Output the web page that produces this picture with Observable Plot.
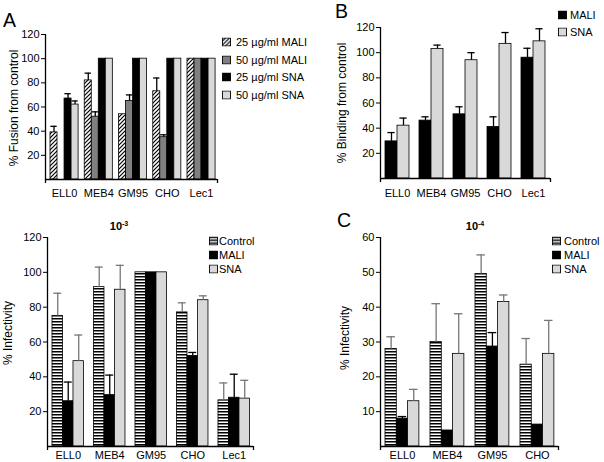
<!DOCTYPE html>
<html><head><meta charset="utf-8">
<script src="https://cdn.jsdelivr.net/npm/d3@7"></script>
<script src="https://cdn.jsdelivr.net/npm/@observablehq/plot@0.6"></script>
<style>
html,body{margin:0;padding:0;background:#fff;}
#fig{position:relative;width:604px;height:462px;overflow:hidden;font-family:"Liberation Sans",Arial,Helvetica,sans-serif;color:#000;background:#fff;}
.plot{position:absolute;}
.ylab{position:absolute;white-space:nowrap;font-size:12px;line-height:1;transform:translate(-50%,-50%) rotate(-90deg);}
.letter{position:absolute;font-size:19.5px;line-height:1;}
.title{position:absolute;font-size:11px;font-weight:bold;line-height:1;transform:translateX(-50%);white-space:nowrap;}
.title sup{font-size:7px;vertical-align:4px;line-height:0;}
.leg{position:absolute;font-size:11px;line-height:1;display:flex;align-items:center;white-space:nowrap;transform:translateY(-50%);}
.leg svg{display:block;flex:none;}
</style></head>
<body>
<svg width="0" height="0" style="position:absolute">
<defs>
<pattern id="diag" patternUnits="userSpaceOnUse" width="4" height="4">
 <rect width="4" height="4" fill="white"/>
 <path d="M-1,1 l2,-2 M0,4 l4,-4 M3,5 l2,-2" stroke="black" stroke-width="1.2"/>
</pattern>
<pattern id="hstripe" patternUnits="userSpaceOnUse" width="4" height="3">
 <rect width="4" height="3" fill="white"/>
 <rect width="4" height="1.5" fill="black"/>
</pattern>
</defs></svg>
<div id="fig"></div>
<script>
// ---------- Panel A: % fusion from control ----------
const groupsA = ["ELL0", "MEB4", "GM95", "CHO", "Lec1"];
const seriesA = ["25 µg/ml MALI", "50 µg/ml MALI", "25 µg/ml SNA", "50 µg/ml SNA"];
const mali25A = [39, 82, 54, 73, 100];
const mali25AErr = [5, 6, 0, 11, 0];
const mali50A = [0, 52, 65, 35, 100];
const mali50AErr = [0, 4, 5, 2, 0];
const sna25A = [67, 100, 100, 100, 100];
const sna25AErr = [4, 0, 0, 0, 0];
const sna50A = [62, 100, 100, 100, 100];
const sna50AErr = [3, 0, 0, 0, 0];
const yTicksA = [20, 40, 60, 80, 100, 120];

// ---------- Panel B: % binding from control ----------
const groupsB = ["ELL0", "MEB4", "GM95", "CHO", "Lec1"];
const seriesB = ["MALI", "SNA"];
const maliB = [29.5, 46, 51, 41, 96];
const maliBErr = [7, 3, 6, 8, 7.5];
const snaB = [42, 103, 94, 107, 109];
const snaBErr = [6, 3, 6, 9, 10];
const yTicksB = [20, 40, 60, 80, 100, 120];

// ---------- Panel 10^-3: % infectivity ----------
const groupsD = ["ELL0", "MEB4", "GM95", "CHO", "Lec1"];
const seriesD = ["Control", "MALI", "SNA"];
const controlD = [75, 91.5, 100, 77, 26.5];
const controlDErr = [13, 11.5, 0, 5.5, 10];
const maliD = [26, 29.5, 100, 52, 28];
const maliDErr = [11, 11.5, 0, 2, 13.5];
const snaD = [49, 90, 100, 84, 27.5];
const snaDErr = [15, 14, 0, 2.5, 10.5];
const yTicksD = [20, 40, 60, 80, 100, 120];

// ---------- Panel C (10^-4): % infectivity ----------
const groupsC = ["ELL0", "MEB4", "GM95", "CHO"];
const seriesC = ["Control", "MALI", "SNA"];
const controlC = [28, 30, 49.5, 23.5];
const controlCErr = [3.5, 11, 5.5, 7.5];
const maliC = [8, 4.6, 28.7, 6.3];
const maliCErr = [0.6, 0, 4, 0];
const snaC = [13, 26.6, 41.5, 26.6];
const snaCErr = [3.4, 11.5, 2, 9.6];
const yTicksC = [10, 20, 30, 40, 50, 60];

const fig = document.getElementById("fig");

function panel(o) {
  const data = [];
  o.series.forEach((s, si) => o.groups.forEach((g, gi) =>
    data.push({gi, si, value: o.values[si][gi], err: o.errors[si][gi]})));
  const bw = o.bw, nS = o.series.length;
  const x1 = d => d.gi + d.si * bw;
  const x2 = d => d.gi + (d.si + 1) * bw;
  const xc = d => d.gi + (d.si + 0.5) * bw;
  const cap = o.capFrac * bw;
  const centers = o.groups.map((g, gi) => gi + nS * bw / 2);
  const innerH = o.height - o.mT - o.mB;
  const marks = [];
  o.series.forEach((s, si) => {
    marks.push(Plot.rect(data.filter(d => d.si === si && d.value > 0),
      {x1, x2, y1: 0, y2: "value", fill: o.fills[si], stroke: "black", strokeWidth: 0.8}));
  });
  o.series.forEach((s, si) => {
    const sub = data.filter(d => d.si === si && d.err > 0);
    marks.push(Plot.ruleX(sub, {x: xc, y1: "value", y2: d => d.value + d.err, stroke: o.errColors[si], strokeWidth: 1.3}));
    marks.push(Plot.ruleY(sub, {y: d => d.value + d.err, x1: d => xc(d) - cap, x2: d => xc(d) + cap, stroke: o.errColors[si], strokeWidth: 1.3}));
  });
  marks.push(Plot.ruleY([0], {stroke: "black", strokeWidth: 1.3}));
  marks.push(Plot.ruleX([o.xDomain[0]], {stroke: "black", strokeWidth: 1.3, insetBottom: -4}));
  marks.push(Plot.ruleX([o.xDomain[1]], {stroke: "black", strokeWidth: 1.3, insetTop: innerH, insetBottom: -4}));
  const chart = Plot.plot({
    width: o.width, height: o.height,
    marginLeft: o.mL, marginRight: o.mR, marginTop: o.mT, marginBottom: o.mB,
    x: {domain: o.xDomain, ticks: centers, tickFormat: d => o.groups[Math.round(d - nS * bw / 2)], tickSize: 0, tickPadding: o.tickPad, label: null},
    y: {domain: [0, o.yMax], ticks: o.yTicks, tickFormat: d => String(d), tickSize: 4, tickPadding: 2, label: null},
    style: {fontFamily: '"Liberation Sans", Arial, sans-serif', fontSize: "11px", background: "white", color: "black", overflow: "visible"},
    marks
  });
  const wrap = document.createElement("div");
  wrap.className = "plot";
  wrap.style.left = o.left + "px";
  wrap.style.top = o.top + "px";
  wrap.appendChild(chart);
  fig.appendChild(wrap);
}

function legend(x, rows, names, fills, gap) {
  names.forEach((n, i) => {
    const d = document.createElement("div");
    d.className = "leg";
    d.style.left = x + "px";
    d.style.top = rows[i] + "px";
    d.innerHTML = `<svg width="9" height="9"><rect x="0.5" y="0.5" width="8" height="8" fill="${fills[i]}" stroke="black" stroke-width="0.9"/></svg><span style="margin-left:${gap}px">${n}</span>`;
    fig.appendChild(d);
  });
}

function text(cls, html, left, top) {
  const d = document.createElement("div");
  d.className = cls;
  d.innerHTML = html;
  d.style.left = left + "px";
  d.style.top = top + "px";
  fig.appendChild(d);
}

const fillsA = ["url(#diag)", "#808080", "#000000", "#d9d9d9"];
const fillsB = ["#000000", "#d9d9d9"];
const fillsD = ["url(#hstripe)", "#000000", "#d9d9d9"];

panel({left: 0, top: 0, width: 300, height: 210, mL: 45, mR: 83, mT: 34, mB: 31,
  groups: groupsA, series: seriesA,
  values: [mali25A, mali50A, sna25A, sna50A], errors: [mali25AErr, mali50AErr, sna25AErr, sna50AErr],
  fills: fillsA, errColors: ["#000", "#000", "#000", "#000"],
  bw: 0.205, capFrac: 0.45, xDomain: [-0.146, 4.876], yMax: 120, yTicks: yTicksA, tickPad: 10});

panel({left: 300, top: 0, width: 304, height: 210, mL: 80, mR: 54, mT: 27, mB: 32,
  groups: groupsB, series: seriesB,
  values: [maliB, snaB], errors: [maliBErr, snaBErr],
  fills: fillsB, errColors: ["#000", "#000"],
  bw: 0.353, capFrac: 0.3, xDomain: [-0.147, 4.853], yMax: 120, yTicks: yTicksB, tickPad: 11});

panel({left: 0, top: 210, width: 300, height: 252, mL: 47, mR: 47, mT: 27, mB: 16,
  groups: groupsD, series: seriesD,
  values: [controlD, maliD, snaD], errors: [controlDErr, maliDErr, snaDErr],
  fills: fillsD, errColors: ["#777", "#000", "#777"],
  bw: 0.253, capFrac: 0.38, xDomain: [-0.12, 4.844], yMax: 120, yTicks: yTicksD, tickPad: 5});

panel({left: 300, top: 210, width: 304, height: 252, mL: 80, mR: 46, mT: 27, mB: 16,
  groups: groupsC, series: seriesC,
  values: [controlC, maliC, snaC], errors: [controlCErr, maliCErr, snaCErr],
  fills: fillsD, errColors: ["#777", "#000", "#777"],
  bw: 0.251, capFrac: 0.38, xDomain: [-0.111, 3.845], yMax: 60, yTicks: yTicksC, tickPad: 5});

// panel letters
text("letter", "A", 3, 10.5);
text("letter", "B", 335, 2);
text("letter", "C", 337, 210.5);
// titles
text("title", "10<sup>-3</sup>", 119, 221);
text("title", "10<sup>-4</sup>", 475, 221);
// y-axis labels
text("ylab", "% Fusion from control", 14, 108);
text("ylab", "% Binding from control", 342, 103);
text("ylab", "% Infectivity", 8, 333);
text("ylab", "% Infectivity", 345, 338);
// legends
legend(222, [41.5, 59.5, 77, 94.5], seriesA, fillsA, 5);
legend(558, [15, 32], seriesB, fillsB, 3);
legend(209, [241, 255, 269], seriesD, fillsD, 1);
legend(552, [241, 255, 269], seriesC, fillsD, 3);
</script>
</body></html>
